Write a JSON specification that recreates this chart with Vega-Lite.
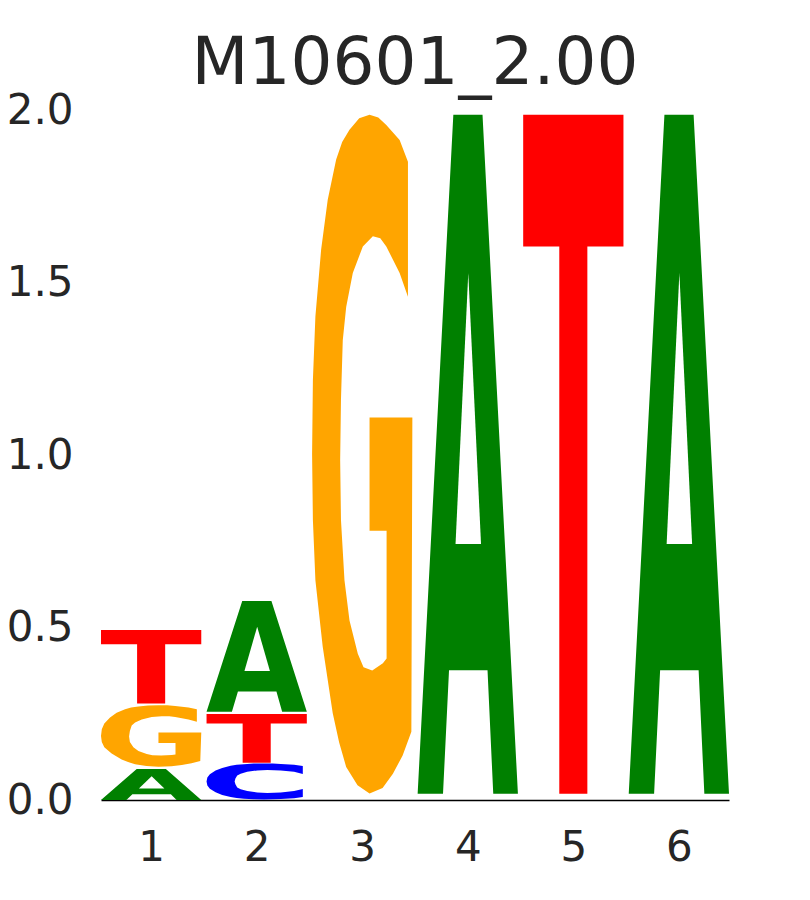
{
  "$schema": "https://vega.github.io/schema/vega-lite/v6.json",
  "width": 628,
  "height": 690,
  "autosize": "none",
  "padding": {"left": 101, "top": 110, "right": 81, "bottom": 100},
  "title": {"text": "M10601_2.00", "fontSize": 66, "font": "DejaVu Sans", "fontWeight": "normal", "color": "#262626", "baseline": "alphabetic", "offset": 27, "dy": 88, "anchor": "middle", "frame": "group"},
  "datasets": {
    "glyphs": [
      {"letter": "A",
       "ux": [0, 0.356, 0.647, 1, 0.754, 0.697, 0.313, 0.253],
       "uy": [0, 1, 1, 0, 0, 0.182, 0.182, 0],
       "hx": [0.378, 0.505, 0.632],
       "hy": [0.368, 0.767, 0.368]},
      {"letter": "T",
       "ux": [0, 1, 1, 0.64, 0.64, 0.36, 0.36, 0],
       "uy": [1, 1, 0.806, 0.806, 0, 0, 0.806, 0.806]},
      {"letter": "G",
       "ux": [0.956,0.873,0.740,0.660,0.573,0.470,0.373,0.300,0.240,0.156,0.090,0.033,0.008,0.000,0.008,0.033,0.106,0.206,0.270,0.340,0.453,0.573,0.703,0.806,0.903,0.990,1.000,0.573,0.573,0.743,0.743,0.706,0.600,0.513,0.456,0.373,0.323,0.288,0.280,0.288,0.306,0.340,0.406,0.506,0.606,0.680,0.740,0.873,0.956],
       "uy": [0.931,0.963,0.985,0.996,1.000,0.995,0.978,0.960,0.934,0.875,0.801,0.703,0.609,0.500,0.403,0.314,0.216,0.118,0.075,0.039,0.012,0.000,0.008,0.029,0.056,0.091,0.554,0.554,0.387,0.387,0.199,0.192,0.181,0.186,0.206,0.255,0.314,0.403,0.491,0.580,0.668,0.717,0.767,0.806,0.821,0.818,0.806,0.767,0.732]},
      {"letter": "C",
       "ux": [0.96,0.873,0.74,0.66,0.573,0.47,0.373,0.3,0.24,0.156,0.09,0.033,0.008,0,0.008,0.033,0.09,0.156,0.24,0.3,0.373,0.47,0.573,0.66,0.74,0.873,0.96,0.96,0.873,0.74,0.606,0.506,0.406,0.34,0.306,0.288,0.28,0.288,0.306,0.34,0.406,0.506,0.606,0.74,0.873,0.96],
       "uy": [0.93,0.963,0.985,0.996,1,0.995,0.978,0.96,0.934,0.875,0.801,0.703,0.609,0.5,0.391,0.297,0.199,0.125,0.066,0.04,0.022,0.005,0,0.004,0.015,0.037,0.07,0.29,0.233,0.194,0.179,0.194,0.233,0.283,0.332,0.42,0.5,0.58,0.668,0.717,0.767,0.806,0.821,0.806,0.767,0.71]}
    ]
  },
  "data": {
    "values": [
      {"pos": 1, "letter": "A", "y0": 0.0, "y1": 0.09},
      {"pos": 1, "letter": "G", "y0": 0.0965, "y1": 0.275},
      {"pos": 1, "letter": "T", "y0": 0.28, "y1": 0.493},
      {"pos": 2, "letter": "C", "y0": 0.0015, "y1": 0.106},
      {"pos": 2, "letter": "T", "y0": 0.108, "y1": 0.249},
      {"pos": 2, "letter": "A", "y0": 0.256, "y1": 0.577},
      {"pos": 3, "letter": "G", "y0": 0.019, "y1": 1.986},
      {"pos": 4, "letter": "A", "y0": 0.018, "y1": 1.986},
      {"pos": 5, "letter": "T", "y0": 0.018, "y1": 1.986},
      {"pos": 6, "letter": "A", "y0": 0.018, "y1": 1.986}
    ]
  },
  "encoding": {
    "x": {"field": "x", "type": "quantitative",
          "scale": {"domain": [0.525, 6.475], "nice": false, "zero": false},
          "axis": {"values": [1, 2, 3, 4, 5, 6], "format": "d", "title": null, "ticks": false, "grid": false, "domain": true, "domainColor": "#000000", "domainWidth": 1.3, "labelFontSize": 42, "labelColor": "#262626", "labelPadding": 27, "labelFont": "DejaVu Sans"}},
    "y": {"field": "y", "type": "quantitative",
          "scale": {"domain": [0, 2], "nice": false},
          "axis": {"values": [0, 0.5, 1, 1.5, 2], "format": ".1f", "title": null, "ticks": false, "grid": false, "domain": false, "labelFontSize": 42, "labelColor": "#262626", "labelPadding": 28, "labelFont": "DejaVu Sans"}},
    "detail": [{"field": "pos", "type": "nominal"}, {"field": "letter", "type": "nominal"}],
    "order": {"value": null}
  },
  "layer": [
    {
      "transform": [
        {"lookup": "letter", "from": {"data": {"name": "glyphs"}, "key": "letter", "fields": ["ux", "uy"]}},
        {"flatten": ["ux", "uy"]},
        {"calculate": "datum.pos - 0.475 + 0.95 * datum.ux", "as": "x"},
        {"calculate": "datum.y0 + (datum.y1 - datum.y0) * datum.uy", "as": "y"}
      ],
      "mark": {"type": "line", "interpolate": "linear-closed", "strokeWidth": 0},
      "encoding": {
        "fill": {"field": "letter", "type": "nominal",
                 "scale": {"domain": ["A", "C", "G", "T"], "range": ["#008000", "#0000ff", "#ffa500", "#ff0000"]},
                 "legend": null}
      }
    },
    {
      "transform": [
        {"filter": "datum.letter === 'A'"},
        {"lookup": "letter", "from": {"data": {"name": "glyphs"}, "key": "letter", "fields": ["hx", "hy"]}},
        {"flatten": ["hx", "hy"]},
        {"calculate": "datum.pos - 0.475 + 0.95 * datum.hx", "as": "x"},
        {"calculate": "datum.y0 + (datum.y1 - datum.y0) * datum.hy", "as": "y"}
      ],
      "mark": {"type": "line", "interpolate": "linear-closed", "strokeWidth": 0},
      "encoding": {
        "fill": {"value": "#ffffff"}
      }
    }
  ],
  "config": {"view": {"stroke": null}, "font": "DejaVu Sans", "background": "#ffffff"}
}
